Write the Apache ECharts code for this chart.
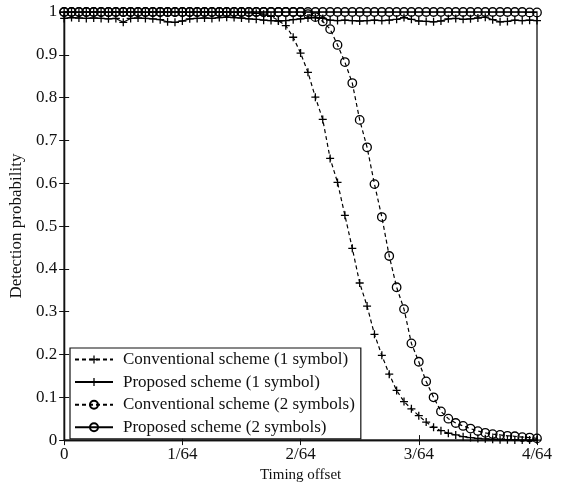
<!DOCTYPE html>
<html>
<head>
<meta charset="utf-8">
<script src="https://cdn.jsdelivr.net/npm/echarts@6/dist/echarts.min.js"></script>
<style>
html,body{margin:0;padding:0;background:#fff;}
#chart{width:561px;height:488px;}
</style>
</head>
<body>
<div id="chart"></div>
<script>
// Sample index of timing offset (in units of 1/1024, i.e. 16 samples per 1/64)
const offsetSamples = [0,1,2,3,4,5,6,7,8,9,10,11,12,13,14,15,16,17,18,19,20,21,22,23,24,25,26,27,28,29,30,31,32,33,34,35,36,37,38,39,40,41,42,43,44,45,46,47,48,49,50,51,52,53,54,55,56,57,58,59,60,61,62,63,64];
const xTickLabels = ['0','1/64','2/64','3/64','4/64'];
const seriesNames = ['Conventional scheme (1 symbol)','Proposed scheme (1 symbol)','Conventional scheme (2 symbols)','Proposed scheme (2 symbols)'];

const conventional1 = [1,1,0.999,1,1,1,0.999,1,1,1,1,0.999,1,1,1,1,1,0.999,1,1,1,1,1,0.999,1,0.998,0.997,0.995,
  0.990,0.980,0.968,0.941,0.904,0.859,0.801,0.749,0.658,0.602,0.525,0.448,0.367,0.313,0.247,0.198,0.154,0.116,
  0.090,0.073,0.057,0.042,0.030,0.022,0.016,0.012,0.008,0.006,0.004,0.003,0.002,0.001,0.001,0.0005,0,0,0];
const proposed1 = [0.985,0.987,0.986,0.985,0.986,0.985,0.984,0.985,0.976,0.985,0.986,0.985,0.984,0.982,0.977,0.976,
  0.979,0.984,0.985,0.986,0.985,0.987,0.988,0.987,0.986,0.984,0.983,0.981,0.980,0.979,0.980,0.982,0.984,0.986,0.987,
  0.985,0.981,0.980,0.981,0.980,0.979,0.980,0.981,0.980,0.981,0.983,0.987,0.983,0.979,0.978,0.977,0.979,0.984,0.985,
  0.983,0.984,0.986,0.988,0.982,0.977,0.978,0.981,0.980,0.981,0.980];
const conventional2 = [1,1,1,1,1,1,1,1,1,1,1,1,1,1,1,1,1,1,1,1,1,1,1,1,1,1,1,1,1,1,1,1,1,
  0.995,0.988,0.978,0.960,0.923,0.883,0.834,0.748,0.684,0.598,0.521,0.430,0.357,0.306,0.226,0.183,0.137,0.100,
  0.067,0.050,0.040,0.033,0.027,0.021,0.017,0.014,0.012,0.010,0.009,0.007,0.006,0.004];
const proposed2 = [1,1,1,1,1,1,1,1,1,1,1,1,1,1,1,1,1,1,1,1,1,1,1,1,1,1,1,1,1,1,1,1,1,1,1,1,1,1,1,1,1,1,1,1,1,1,1,1,1,1,1,1,1,1,1,1,1,1,1,1,1,1,1,0.999,0.999];

const FONT = 'Liberation Serif';
const plusPath = 'path://M4.2,0H5.8V4.2H10V5.8H5.8V10H4.2V5.8H0V4.2H4.2Z';

function pairs(vals){ return offsetSamples.map((s,i)=>[s/16, vals[i]]); }

function mkSeries(name, vals, dashed, symbol){
  const isPlus = symbol === 'plus';
  return {
    name: name,
    type: 'line',
    data: pairs(vals),
    showSymbol: true,
    showAllSymbol: true,
    symbol: isPlus ? plusPath : 'circle',
    symbolSize: isPlus ? 8 : 8.5,
    itemStyle: isPlus ? {color:'#000', borderWidth:0} : {color:'rgba(255,255,255,0)', borderColor:'#000', borderWidth:1.3},
    lineStyle: {color:'#000', width:1.2, type: dashed ? [4,3] : 'solid'},
    emphasis: {disabled:true},
    silent: true
  };
}

const chart = echarts.init(document.getElementById('chart'), null, {renderer:'canvas'});
const axisLine = {show:true, lineStyle:{color:'#111', width:1.3}};
const tick = {show:true, inside:true, length:5, lineStyle:{color:'#111', width:1}};
chart.setOption({
  animation: false,
  backgroundColor: '#fff',
  textStyle: {fontFamily: FONT},
  grid: {left:63, right:24, top:12, bottom:45, show:true, borderColor:'#111', borderWidth:1.3, backgroundColor:'transparent'},
  legend: {
    orient: 'vertical', left: 70, top: 348,
    data: seriesNames,
    itemWidth: 38, itemHeight: 10, itemGap: 5.6,
    padding: [3, 6, 3, 4],
    borderColor: '#111', borderWidth: 1.2,
    backgroundColor: '#fff',
    textStyle: {fontFamily: FONT, fontSize: 17, color:'#111', padding:[0,0,0,5]},
    selectedMode: false
  },
  xAxis: [{
    type:'value', min:0, max:4, interval:1,
    name:'Timing offset', nameLocation:'middle', nameGap:25,
    nameTextStyle:{fontFamily:FONT, fontSize:15, color:'#111'},
    axisLine: axisLine,
    axisTick: tick,
    axisLabel:{fontFamily:FONT, fontSize:17, color:'#111', margin:6, formatter:(v)=>xTickLabels[Math.round(v)]},
    splitLine:{show:false}
  },{
    type:'value', min:0, max:4, interval:1, position:'top',
    axisLine: axisLine,
    axisTick: tick,
    axisLabel:{show:false}, splitLine:{show:false}
  }],
  yAxis: [{
    type:'value', min:0, max:1, interval:0.1,
    name:'Detection probability', nameLocation:'middle', nameGap:36,
    nameTextStyle:{fontFamily:FONT, fontSize:17, color:'#111'},
    axisLine: axisLine,
    axisTick: tick,
    axisLabel:{fontFamily:FONT, fontSize:17, color:'#111', margin:7, formatter:(v)=>String(Math.round(v*10)/10)},
    splitLine:{show:false}
  },{
    type:'value', min:0, max:1, interval:0.1, position:'right',
    axisLine: axisLine,
    axisTick: tick,
    axisLabel:{show:false}, splitLine:{show:false}
  }],
  series: [
    mkSeries(seriesNames[0], conventional1, true, 'plus'),
    mkSeries(seriesNames[1], proposed1, false, 'plus'),
    mkSeries(seriesNames[2], conventional2, true, 'circle'),
    mkSeries(seriesNames[3], proposed2, false, 'circle')
  ]
});
</script>
</body>
</html>
